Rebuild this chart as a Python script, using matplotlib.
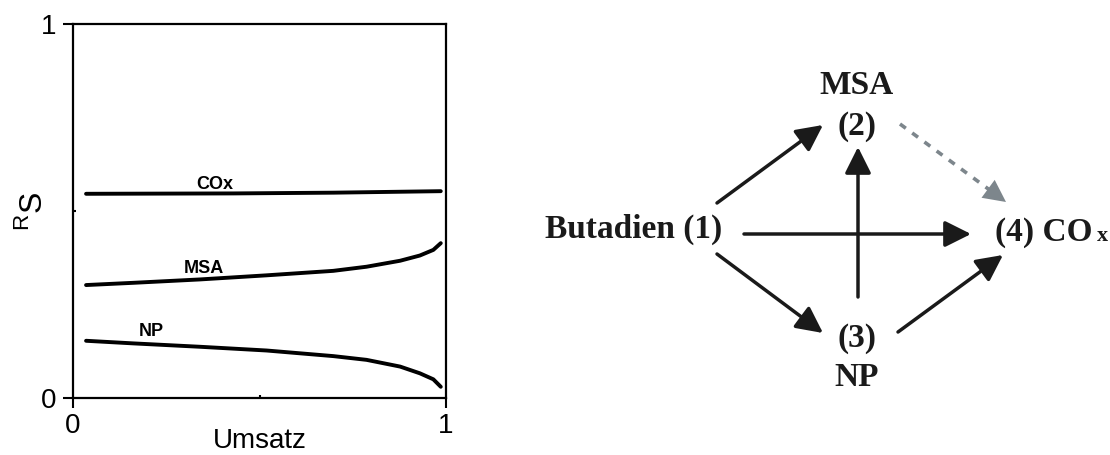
import matplotlib
matplotlib.use("Agg")
import matplotlib.pyplot as plt
from matplotlib.patches import FancyArrowPatch

# Selectivity vs. conversion
umsatz_cox = [0.035, 0.43, 0.698, 0.986]
s_cox = [0.546, 0.547, 0.549, 0.553]

umsatz_msa = [0.035, 0.162, 0.34, 0.519, 0.698, 0.787, 0.877, 0.93, 0.966, 0.986]
s_msa = [0.302, 0.308, 0.317, 0.328, 0.340, 0.351, 0.367, 0.381, 0.396, 0.414]

umsatz_np = [0.035, 0.162, 0.34, 0.519, 0.698, 0.787, 0.877, 0.93, 0.966, 0.986]
s_np = [0.153, 0.146, 0.137, 0.127, 0.112, 0.102, 0.084, 0.066, 0.050, 0.030]

curve_labels = ["COx", "MSA", "NP"]
label_pos = [(0.38, 0.572), (0.35, 0.345), (0.21, 0.177)]

tick_vals = [0, 1]
tick_labels = ["0", "1"]

# Reaction network nodes (figure pixel coordinates)
nodes = {
    "MSA": (857, 86),
    "(2)": (857, 126),
    "Butadien (1)": (634, 229),
    "(4) CO": (995, 232),
    "(3)": (857, 338),
    "NP": (857, 377),
}
arrows_solid = [
    ((717, 203), (823, 125)),
    ((744, 234), (971, 234)),
    ((717, 254), (823, 333)),
    ((858, 297), (858, 147)),
    ((898, 332), (1003, 255)),
]
arrow_dashed = ((900, 124), (1006, 202))

W, H = 1110, 455
fig = plt.figure(figsize=(W / 100, H / 100), dpi=100)

sans = ["Liberation Sans", "DejaVu Sans"]
serif = ["Liberation Serif", "DejaVu Serif"]

ax = fig.add_axes([73 / W, (H - 398) / H, 373 / W, 374 / H])
for xs, ys in [(umsatz_cox, s_cox), (umsatz_msa, s_msa), (umsatz_np, s_np)]:
    ax.plot(xs, ys, color="black", lw=2.8, solid_capstyle="round", solid_joinstyle="round")
for lab, (lx, ly) in zip(curve_labels, label_pos):
    ax.text(lx, ly, lab, ha="center", va="center", fontsize=13,
            fontweight="bold", family=sans)

ax.set_xlim(0, 1)
ax.set_ylim(0, 1)
ax.set_xticks(tick_vals)
ax.set_xticklabels(tick_labels, family=sans)
ax.set_yticks(tick_vals)
ax.set_yticklabels(tick_labels, family=sans)
ax.set_xticks([0.5], minor=True)
ax.set_yticks([0.5], minor=True)
ax.tick_params(which="major", direction="out", length=7, width=1.5,
               labelsize=20)
ax.tick_params(axis="y", which="major", pad=5)
ax.tick_params(axis="x", which="major", pad=4)
ax.tick_params(which="minor", direction="in", length=2, width=1.5)
for sp in ax.spines.values():
    sp.set_linewidth(1.6)
ax.set_xlabel("Umsatz", fontsize=20, family=sans, labelpad=-8)
ax.set_ylabel(r"$^{\mathregular{R}}\mathregular{S}$", fontsize=23,
              family=sans, labelpad=-6)

# Reaction scheme
ax2 = fig.add_axes([0, 0, 1, 1], zorder=-1)
ax2.set_xlim(0, W)
ax2.set_ylim(H, 0)
ax2.axis("off")
ax2.patch.set_alpha(0)

for name, (x, y) in nodes.items():
    ha = "left" if name == "(4) CO" else "center"
    t = ax2.text(x, y, name, ha=ha, va="center", fontsize=24,
                 fontweight="bold", family=serif, color="#1a1a1a")
    if name == "(4) CO":
        ax2.annotate("x", xy=(1, 0), xycoords=t, xytext=(3, 1),
                     textcoords="offset points", ha="left", va="bottom",
                     fontsize=16, fontweight="bold", family=serif,
                     color="#1a1a1a")

style = "-|>,head_length=1.0,head_width=0.5"
for (p0, p1) in arrows_solid:
    ax2.add_patch(FancyArrowPatch(p0, p1, arrowstyle=style, mutation_scale=16,
                                  lw=2.5, color="#1a1a1a", shrinkA=0, shrinkB=0))

(d0, d1) = arrow_dashed
fx = d0[0] + (d1[0] - d0[0]) * 0.84
fy = d0[1] + (d1[1] - d0[1]) * 0.84
ax2.plot([d0[0], fx], [d0[1], fy], color="#7d868c", lw=2.6,
         linestyle=(0, (2.0, 2.2)))
ax2.add_patch(FancyArrowPatch((fx, fy), d1, arrowstyle=style, mutation_scale=16,
                              lw=0, color="#7d868c", shrinkA=0, shrinkB=0))

fig.savefig("out.png", dpi=100)
